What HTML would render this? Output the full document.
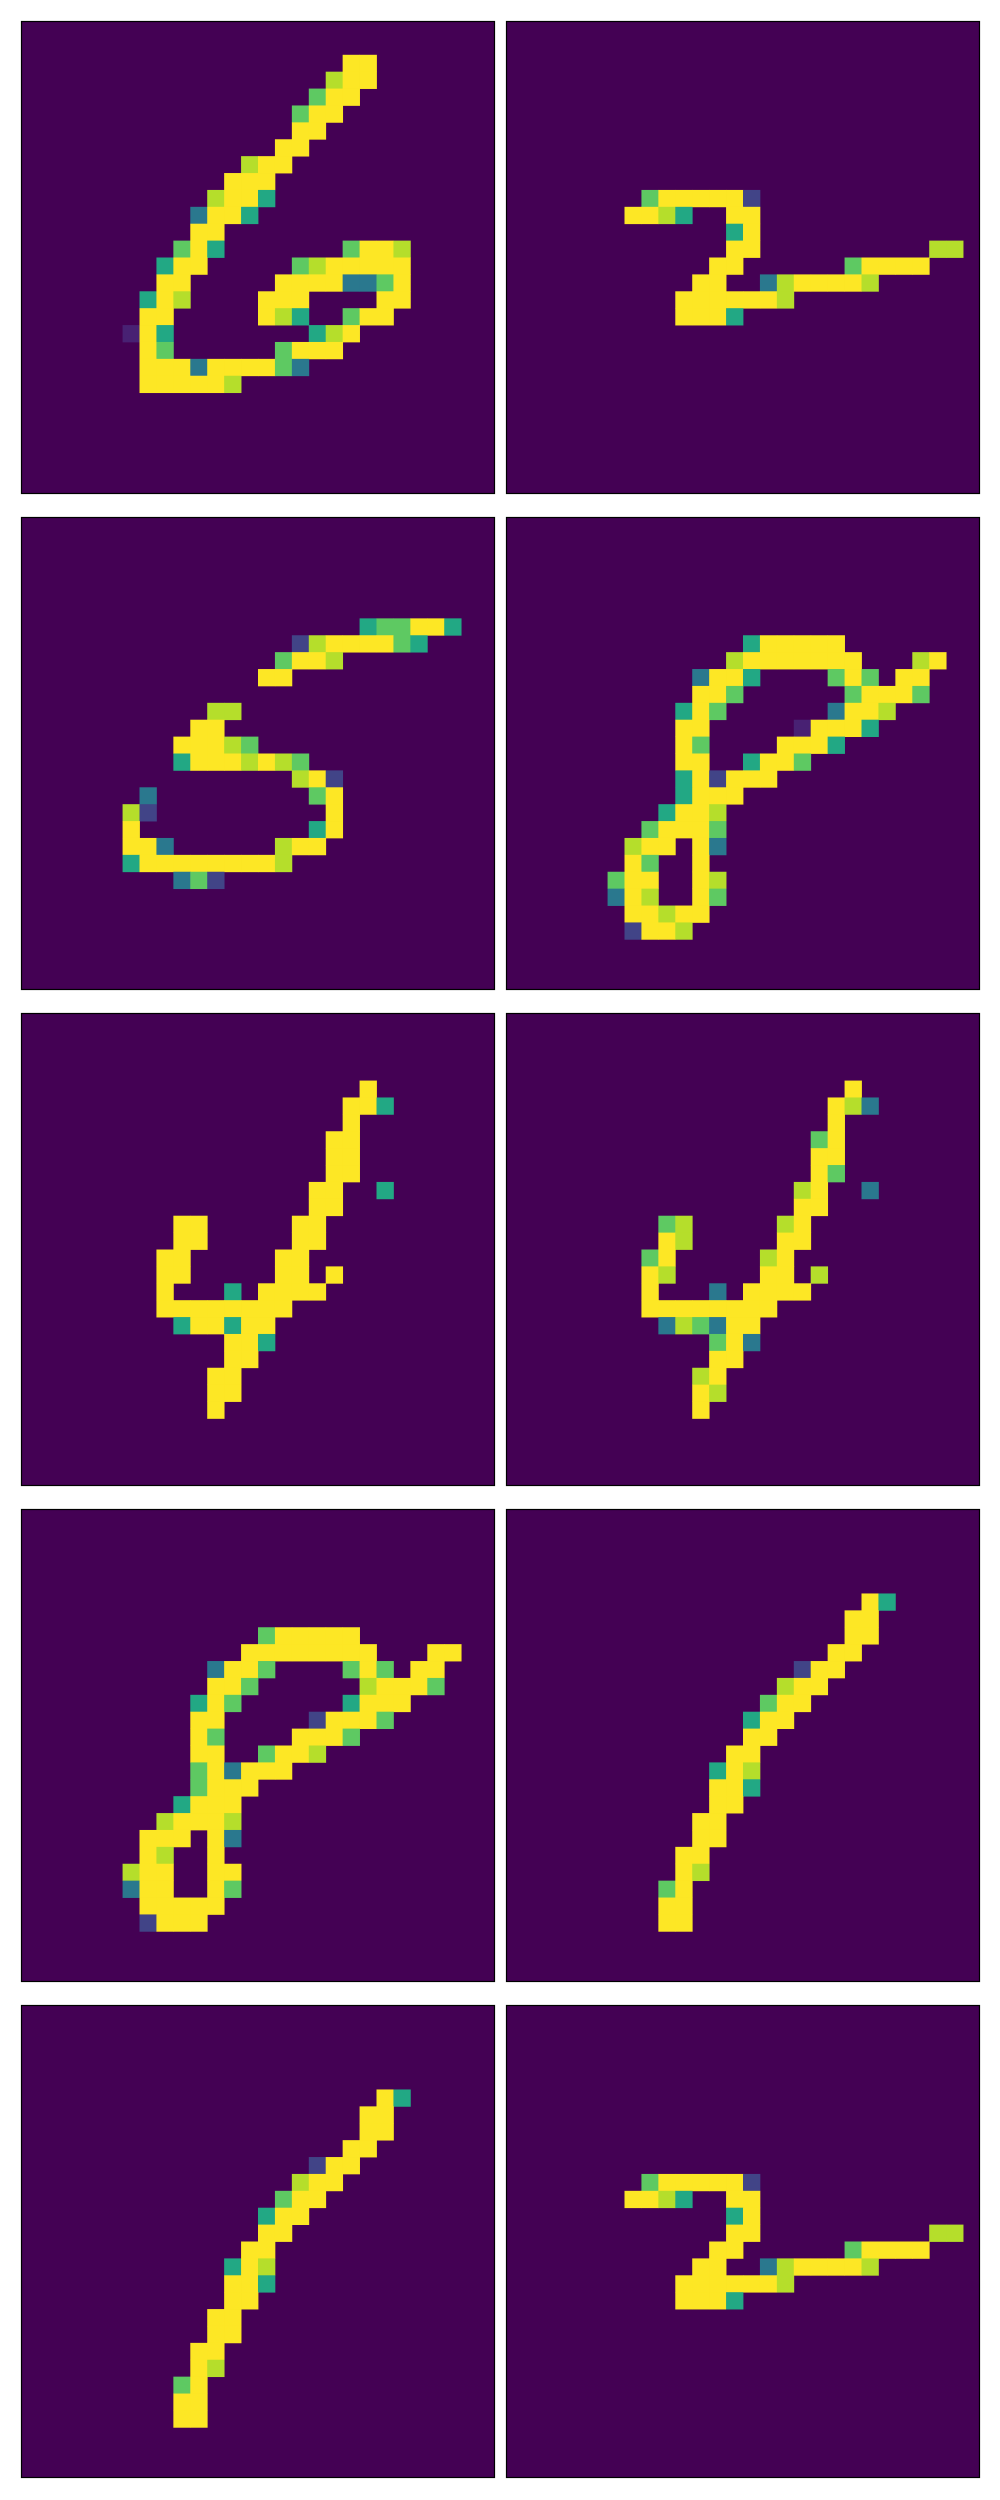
<!DOCTYPE html>
<html><head><meta charset="utf-8"><title>Digit grid</title>
<style>
html,body{margin:0;padding:0;background:#fff;}
svg{display:block;}
</style></head>
<body>
<svg id="fig" width="1000" height="2500" viewBox="0 0 1000 2500" xmlns="http://www.w3.org/2000/svg">
<rect x="0" y="0" width="1000" height="2500" fill="#ffffff"/>
</svg>
<script>
// Value codes: y=1.0, l=0.85, g=0.7, t=0.55, b=0.4, p=0.2, d=0.1
const valueCodes = ['d','p','b','t','g','l','y'];
const codeColors = ['#482173','#414487','#2a788e','#22a884','#5ec962','#b5de2b','#fde725'];

const panelSix = [[2,19,"yy"],[3,18,"lyy"],[4,17,"gyy"],[5,16,"gyy"],[6,16,"yy"],[7,15,"yy"],[8,13,"lyy"],[9,12,"yyy"],[10,11,"lyyt"],[11,10,"byyt"],[12,10,"yy"],[13,9,"gyt"],[13,19,"gyyl"],[14,8,"tyy"],[14,16,"glyyyyy"],[15,8,"yy"],[15,15,"yyyybbgy"],[16,7,"tyl"],[16,14,"yyy"],[16,21,"yy"],[17,7,"yy"],[17,14,"ylt"],[17,19,"gyy"],[18,6,"dyt"],[18,17,"tly"],[19,7,"yg"],[19,15,"gyyy"],[20,7,"yyybyyyygb"],[21,7,"yyyyyl"]];
const panelTwo = [[10,8,"gyyyyyp"],[11,7,"yylt..yy"],[12,13,"ty"],[13,13,"yy"],[13,25,"ll"],[14,12,"yy"],[14,20,"gyyyy"],[15,11,"yy..blyyyyl"],[16,10,"yyyyyyl"],[17,10,"yyyt"]];
const panelFive = [[6,20,"tggyyt"],[7,16,"plyyyygt"],[8,15,"gyyl"],[9,14,"yy"],[11,11,"ll"],[12,10,"yy"],[13,9,"yyylg"],[14,9,"tyyylylg"],[15,16,"lyp"],[16,7,"b"],[16,17,"gy"],[17,6,"lp"],[17,18,"y"],[18,6,"y"],[18,17,"ty"],[19,6,"yyb"],[19,15,"lyy"],[20,6,"tyyyyyyyyl"],[21,9,"bgp"]];
const panelEightA = [[7,14,"tyyyyy"],[8,13,"lyyyyyyy"],[8,24,"ly"],[9,11,"byyt"],[9,19,"gyg.yy"],[10,11,"yyg"],[10,20,"gyyyg"],[11,10,"tyg"],[11,19,"byyl"],[12,10,"yy"],[12,17,"dyyyt"],[13,10,"yg"],[13,16,"yyyt"],[14,10,"yy"],[14,14,"tyyg"],[15,10,"typyyy"],[16,10,"tyyy"],[17,9,"tyyl"],[18,8,"gyyyg"],[19,7,"lyy.yb"],[20,7,"yg..y"],[21,6,"gyy..yl"],[22,6,"byl..yg"],[23,7,"yylyy"],[24,7,"pyyl"]];
const panelFourA = [[4,20,"y"],[5,19,"yyt"],[6,19,"y"],[7,18,"yy"],[8,18,"yy"],[9,18,"yy"],[10,17,"yy"],[10,21,"t"],[11,17,"yy"],[12,9,"yy"],[12,16,"yy"],[13,9,"yy"],[13,16,"yy"],[14,8,"yy"],[14,15,"yy"],[15,8,"yy"],[15,15,"yy.y"],[16,8,"y...t.yyyy"],[17,8,"yyyyyyyy"],[18,9,"tyytyy"],[19,12,"yyt"],[20,12,"yy"],[21,11,"yy"],[22,11,"yy"],[23,11,"y"]];
const panelFourB = [[4,20,"y"],[5,19,"ylb"],[6,19,"y"],[7,18,"gy"],[8,18,"yy"],[9,18,"yg"],[10,17,"ly"],[10,21,"b"],[11,17,"yy"],[12,9,"gl"],[12,16,"ly"],[13,9,"yl"],[13,16,"yy"],[14,8,"gy"],[14,15,"ly"],[15,8,"yl"],[15,15,"yy.l"],[16,8,"y...b.yyyy"],[17,8,"yyyyyyyy"],[18,9,"blgbyy"],[19,12,"gyb"],[20,12,"yy"],[21,11,"ly"],[22,11,"yl"],[23,11,"y"]];
const panelEightB = [[7,14,"gyyyyy"],[8,13,"yyyyyyyy"],[8,24,"yy"],[9,11,"byyg"],[9,19,"gyg.yy"],[10,11,"yyg"],[10,20,"lyyyg"],[11,10,"tyg"],[11,19,"tyyy"],[12,10,"yy"],[12,17,"pyyyg"],[13,10,"yg"],[13,16,"yyyg"],[14,10,"yy"],[14,14,"gyyl"],[15,10,"gybyyy"],[16,10,"gyyy"],[17,9,"tyyy"],[18,8,"lyyyl"],[19,7,"yyy.yb"],[20,7,"yl..y"],[21,6,"lyy..yy"],[22,6,"byy..yg"],[23,7,"yyyyy"],[24,7,"pyyy"]];
const panelOneA = [[5,21,"yt"],[6,20,"yy"],[7,20,"yy"],[8,19,"yy"],[9,17,"pyy"],[10,16,"lyy"],[11,15,"gyy"],[12,14,"tyy"],[13,14,"yy"],[14,13,"yy"],[15,12,"tyl"],[16,12,"yyt"],[17,12,"yy"],[18,11,"yy"],[19,11,"yy"],[20,10,"yy"],[21,10,"yl"],[22,9,"gy"],[23,9,"yy"],[24,9,"yy"]];
const panelOneB = [[5,21,"yt"],[6,20,"yy"],[7,20,"yy"],[8,19,"yy"],[9,17,"pyy"],[10,16,"lyy"],[11,15,"gyy"],[12,14,"tyy"],[13,14,"yy"],[14,13,"yy"],[15,12,"tyl"],[16,12,"yyt"],[17,12,"yy"],[18,11,"yy"],[19,11,"yy"],[20,10,"yy"],[21,10,"yl"],[22,9,"gy"],[23,9,"yy"],[24,9,"yy"]];
const panelTwoB = [[10,8,"gyyyyyp"],[11,7,"yylt..yy"],[12,13,"ty"],[13,13,"yy"],[13,25,"ll"],[14,12,"yy"],[14,20,"gyyyy"],[15,11,"yy..blyyyyl"],[16,10,"yyyyyyl"],[17,10,"yyyt"]];

const panels = [panelSix, panelTwo, panelFive, panelEightA, panelFourA, panelFourB, panelEightB, panelOneA, panelOneB, panelTwoB];
const panelLabels = ['digit-6','digit-2','digit-5','digit-8','digit-4','digit-4b','digit-8b','digit-1','digit-1b','digit-2b'];

const NS = 'http://www.w3.org/2000/svg';
const svg = document.getElementById('fig');
const colX = [21, 506];
const rowY = [21, 517, 1013, 1509, 2005];
const PW = 474, PH = 473, N = 28;
const xScale = c => c * PW / N;
const yScale = r => r * PH / N;

panels.forEach((segs, i) => {
  const ox = colX[i % 2], oy = rowY[Math.floor(i / 2)];
  const g = document.createElementNS(NS, 'g');
  
  
  g.setAttribute('transform', 'translate(' + ox + ',' + oy + ')');
  const bg = document.createElementNS(NS, 'rect');
  bg.setAttribute('x', 0); bg.setAttribute('y', 0);
  bg.setAttribute('width', PW); bg.setAttribute('height', PH);
  bg.setAttribute('fill', '#440154');
  
  
  g.appendChild(bg);
  segs.forEach(seg => {
    const [r, c0, codes] = seg;
    for (let k = 0; k < codes.length; k++) {
      const idx = valueCodes.indexOf(codes[k]);
      if (idx < 0) continue;
      const c = c0 + k;
      const cell = document.createElementNS(NS, 'rect');
      const x0 = xScale(c), x1 = xScale(c + 1), y0 = yScale(r), y1 = yScale(r + 1);
      cell.setAttribute('x', x0.toFixed(2));
      cell.setAttribute('y', y0.toFixed(2));
      cell.setAttribute('width', (x1 - x0 + 0.4).toFixed(2));
      cell.setAttribute('height', (y1 - y0 + 0.4).toFixed(2));
      cell.setAttribute('fill', codeColors[idx]);
      
      
      g.appendChild(cell);
    }
  });
  const border = document.createElementNS(NS, 'rect');
  border.setAttribute('x', 0.5); border.setAttribute('y', 0.5);
  border.setAttribute('width', PW - 1); border.setAttribute('height', PH - 1);
  border.setAttribute('fill', 'none');
  border.setAttribute('stroke', '#000');
  border.setAttribute('stroke-width', '1.2');
  
  
  g.appendChild(border);
  svg.appendChild(g);
});
</script>
</body></html>
